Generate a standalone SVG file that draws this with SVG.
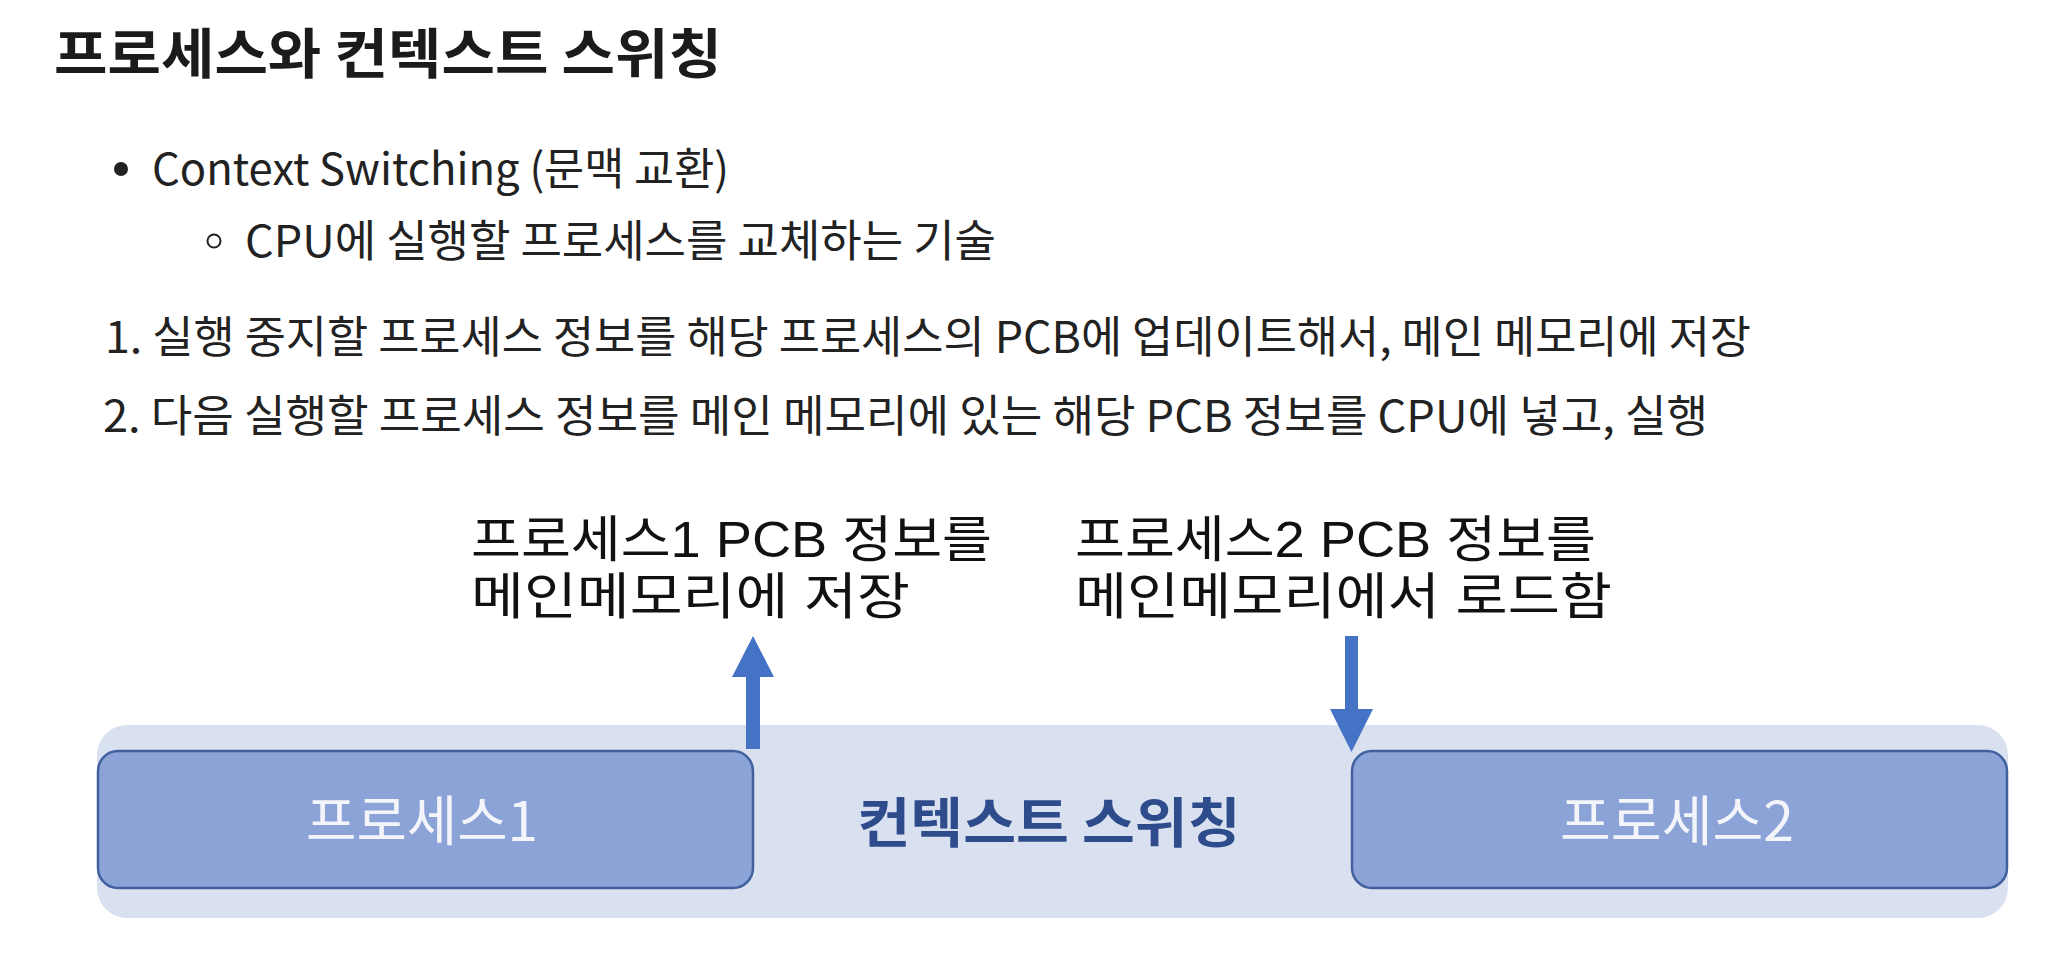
<svg xmlns="http://www.w3.org/2000/svg" width="2068" height="956" viewBox="0 0 2068 956">
<style>
  text { font-family: "Noto Sans CJK KR", "Noto Sans", sans-serif; }
  .title { font-size: 54px; font-weight: 700; fill: #1b1b1b; }
  .body { font-size: 44px; font-weight: 400; fill: #222222; }
  .label { font-family: "Liberation Sans", "Noto Sans CJK KR", sans-serif; font-size: 50px; font-weight: 400; fill: #111111; }
  .box { fill: #8ba3d6; stroke: #41609e; stroke-width: 2.5; }
  .boxtext { font-size: 54px; font-weight: 400; fill: #f3f5fb; text-anchor: middle; }
  .centertext { font-size: 54px; font-weight: 700; fill: #2e4b8b; text-anchor: middle; }
  .arrow { fill: #4472c4; }
</style>
<rect x="0" y="0" width="2068" height="956" fill="#ffffff"/>

<g id="title">
  <text class="title" x="54" y="74" textLength="668" lengthAdjust="spacingAndGlyphs">프로세스와 컨텍스트 스위칭</text>
</g>

<g id="bullets">
  <circle cx="121" cy="169" r="7" fill="#222222"/>
  <text class="body" x="152" y="185" font-size="46" textLength="577" lengthAdjust="spacingAndGlyphs">Context Switching (문맥 교환)</text>
  <circle cx="214" cy="241" r="6.5" fill="none" stroke="#222222" stroke-width="2"/>
  <text class="body" x="245" y="257" font-size="45" textLength="751" lengthAdjust="spacingAndGlyphs">CPU에 실행할 프로세스를 교체하는 기술</text>
  <text class="body" x="105" y="353" textLength="1646" lengthAdjust="spacingAndGlyphs">1. 실행 중지할 프로세스 정보를 해당 프로세스의 PCB에 업데이트해서, 메인 메모리에 저장</text>
  <text class="body" x="103" y="432" textLength="1605" lengthAdjust="spacingAndGlyphs">2. 다음 실행할 프로세스 정보를 메인 메모리에 있는 해당 PCB 정보를 CPU에 넣고, 실행</text>
</g>

<g id="label-save">
  <text class="label" x="471" y="557" textLength="521" lengthAdjust="spacingAndGlyphs">프로세스1 PCB 정보를</text>
  <text class="label" x="471" y="614" textLength="439" lengthAdjust="spacingAndGlyphs">메인메모리에 저장</text>
</g>

<g id="label-load">
  <text class="label" x="1075" y="557" textLength="521" lengthAdjust="spacingAndGlyphs">프로세스2 PCB 정보를</text>
  <text class="label" x="1075" y="614" textLength="537" lengthAdjust="spacingAndGlyphs">메인메모리에서 로드함</text>
</g>

<g id="context-switching">
  <rect x="97" y="725" width="1911" height="193" rx="30" ry="30" fill="#d9e1f0"/>
  <text class="centertext" x="1049" y="843" textLength="383" lengthAdjust="spacingAndGlyphs">컨텍스트 스위칭</text>
</g>

<g id="process1">
  <rect class="box" x="98" y="751" width="655" height="137" rx="20" ry="20"/>
  <text class="boxtext" x="422" y="841" textLength="232" lengthAdjust="spacingAndGlyphs">프로세스1</text>
</g>

<g id="process2">
  <rect class="box" x="1352" y="751" width="655" height="137" rx="20" ry="20"/>
  <text class="boxtext" x="1677" y="841" textLength="234" lengthAdjust="spacingAndGlyphs">프로세스2</text>
</g>

<g id="connectors">
  <path class="arrow" d="M746,749 L746,677 L732,677 L753,636 L774,677 L760,677 L760,749 Z"/>
  <path class="arrow" d="M1345,636 L1358,636 L1358,709 L1373,709 L1351.5,752 L1330,709 L1345,709 Z"/>
</g>
</svg>
